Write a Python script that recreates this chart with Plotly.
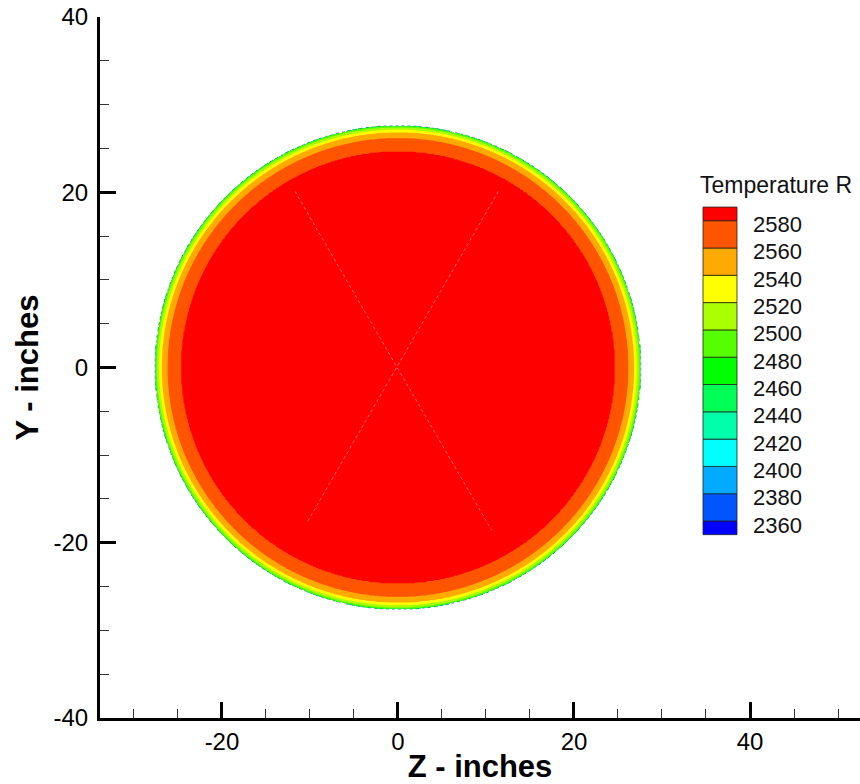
import numpy as np
import plotly.graph_objects as go

# ---------------- data ----------------
# radial temperature profile of the cross-section: radius (inches) -> temperature (R)
profile_r = [0.0, 24.7, 26.2, 26.85, 27.15, 27.4, 27.62]
profile_T = [2595, 2580, 2560, 2540, 2520, 2500, 2475]
outer_radius = 27.62

# contour levels and their band colours (lowest band first)
levels = [2360, 2380, 2400, 2420, 2440, 2460, 2480, 2500, 2520, 2540, 2560, 2580]
band_colors = ['#0000FF', '#0055FF', '#00AAFF', '#00FFFF', '#00FFAA', '#00FF55',
               '#00FF00', '#55FF00', '#AAFF00', '#FFFF00', '#FFAA00', '#FF5500', '#FF0000']
legend_title = "Temperature R"

# faint mesh seam lines crossing the section (an "X")
seam_a_z = [-11.7, 10.65]
seam_a_y = [20.1, -18.6]
seam_b_z = [11.4, -10.4]
seam_b_y = [20.1, -17.8]

# axis ticks
x_tickvals = [-20, 0, 20, 40]
x_ticktext = ["-20", "0", "20", "40"]
y_tickvals = [-40, -20, 0, 20, 40]
y_ticktext = ["-40", "-20", "0", "20", "40"]

x_title = "Z - inches"
y_title = "Y - inches"

# ---------------- field on a grid ----------------
grid = np.arange(-28.0, 28.0001, 0.125)
zz, yy = np.meshgrid(grid, grid)
rr = np.hypot(zz, yy)
T = np.interp(rr, profile_r, profile_T)
T = np.round(T, 1)
T[rr > outer_radius] = np.nan

step = levels[1] - levels[0]
n = len(band_colors)
colorscale = [[k / (n - 1), c] for k, c in enumerate(band_colors)]

FONT = "Liberation Sans, Arial, Helvetica, sans-serif"

fig = go.Figure()
fig.add_trace(go.Contour(
    x=grid, y=grid, z=T,
    contours=dict(start=levels[0], end=levels[-1], size=step,
                  coloring="fill", showlines=False),
    line=dict(width=0),
    colorscale=colorscale,
    zmin=levels[0] - step / 2, zmax=levels[-1] + step / 2,
    showscale=False, connectgaps=False, hoverinfo="skip",
))
for sz, sy in ((seam_a_z, seam_a_y), (seam_b_z, seam_b_y)):
    fig.add_trace(go.Scatter(
        x=sz, y=sy, mode="lines", hoverinfo="skip", showlegend=False,
        line=dict(color="rgba(255,200,200,0.55)", width=1, dash="dot"),
    ))

# faint dark rim at the section edge
fig.add_shape(type="circle", xref="x", yref="y",
              x0=-outer_radius, x1=outer_radius, y0=-outer_radius, y1=outer_radius,
              line=dict(color="rgba(40,70,150,0.45)", width=1, dash="dot"), layer="above")

# ---------------- layout ----------------
L, R, T_M, B = 100, 0, 17, 66
W, H = 860, 784
pw, ph = W - L - R, H - T_M - B


def px2x(px):
    return (px - L) / pw


def py2y(py):
    return (H - B - py) / ph


fig.update_layout(
    width=W, height=H,
    margin=dict(l=L, r=R, t=T_M, b=B, pad=0),
    paper_bgcolor="white", plot_bgcolor="white",
    font=dict(family=FONT, color="black"),
    showlegend=False,
)

axis_common = dict(
    showgrid=False, zeroline=False, showline=True, linecolor="black", linewidth=3,
    ticks="inside", ticklen=16, tickwidth=2.5, tickcolor="black",
    tickfont=dict(family=FONT, size=24, color="black"),
    tickmode="array",
    minor=dict(ticks="inside", ticklen=9, tickwidth=1.2, tickcolor="#333",
               tickmode="linear", tick0=0, dtick=5, showgrid=False),
)
fig.update_xaxes(range=[-33.86, 52.5], tickvals=x_tickvals, ticktext=x_ticktext,
                 title=dict(text="<b>" + x_title + "</b>",
                            font=dict(family=FONT, size=31, color="black"), standoff=2),
                 **axis_common)
fig.update_yaxes(range=[-40, 40], tickvals=y_tickvals, ticktext=y_ticktext,
                 ticklabelstandoff=4,
                 title=dict(text="<b>" + y_title + "</b>",
                            font=dict(family=FONT, size=31, color="black"), standoff=6),
                 **axis_common)

# ---------------- contour legend ----------------
box_l, box_r = 703, 737
lev_py0, lev_dpy = 521.0, 27.3   # pixel row of first level and spacing
annotations = []
for k, lev in enumerate(levels):
    annotations.append(dict(xref="paper", yref="paper", x=px2x(751),
                            y=py2y(lev_py0 - lev_dpy * k + 4),
                            text=str(lev), showarrow=False, xanchor="left", yanchor="middle",
                            font=dict(family=FONT, size=22, color="#111")))
annotations.append(dict(xref="paper", yref="paper", x=px2x(698), y=py2y(185),
                        text=legend_title, showarrow=False, xanchor="left", yanchor="middle",
                        font=dict(family=FONT, size=23, color="#111")))
fig.update_layout(annotations=annotations)
for i, c in enumerate(band_colors):
    bot = lev_py0 - lev_dpy * (i - 1) if i >= 1 else lev_py0 + lev_dpy / 2
    top = lev_py0 - lev_dpy * i if i <= len(levels) - 1 else lev_py0 - lev_dpy * (i - 1) - lev_dpy / 2
    fig.add_shape(type="rect", xref="paper", yref="paper",
                  x0=px2x(box_l), x1=px2x(box_r), y0=py2y(bot), y1=py2y(top),
                  fillcolor=c, line=dict(color="#222", width=0.8), layer="above")

fig.write_html("out.html")
